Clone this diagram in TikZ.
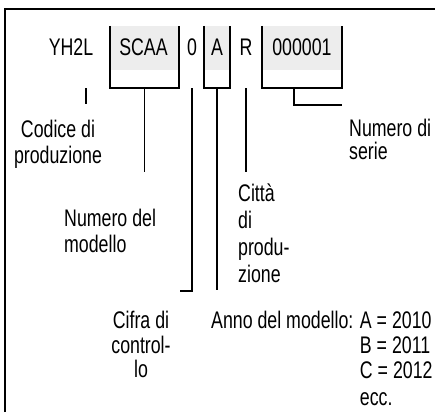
\documentclass[tikz,border=0pt]{standalone}
\usepackage{fontspec}
\setmainfont{Liberation Sans}[FakeStretch=0.74]
\usetikzlibrary{positioning}
\newcommand{\platefont}{\fontsize{24}{22}\selectfont\lineskiplimit=-20pt\relax}

\begin{document}
\begin{tikzpicture}[x=1pt, y=-1pt, font=\platefont,
    code/.style={anchor=base, inner sep=0pt},
    slot/.style={inner sep=0pt, minimum height=62pt},
    lbl/.style={inner sep=0pt, anchor=north west, align=left},
    stem/.style={line width=1.8pt}]
  \useasboundingbox (0,0) rectangle (435,412);
  \draw[line width=1.8pt] (5,412) -- (5,9) -- (435,9);
  % open slots round the groups of the serial number
  \node[slot, minimum width=69pt] (s1) at (144.5,57) {};
  \node[slot, minimum width=26pt] (s2) at (217,57) {};
  \node[slot, minimum width=80pt] (s3) at (302,57) {};
  \foreach \s in {s1,s2,s3} {
    \fill[black!7] (\s.north west) rectangle ([yshift=18pt]\s.south east);
    \draw[stem] (\s.north west) -- (\s.south west) -- (\s.south east) -- (\s.north east);
  }
  % the code itself
  \node[code] (yh) at (71,55) {YH2L};
  \node[code] (scaa) at (143.5,55) {SCAA};
  \node[code] (cd) at (192,55) {0};
  \node[code] (yr) at (217,55) {A};
  \node[code] (ct) at (246,55) {R};
  \node[code] (sn) at (302,55) {000001};
  % explanations
  \node[lbl, anchor=north, align=center] (prod) at (58,120) {Codice di\\[4pt]produzione};
  \node[lbl] (mod) at (64,209) {Numero del\\[4pt]modello};
  \node[lbl] (city) at (238,184) {Città\\[5pt]di\\[5pt]produ-\\[5pt]zione};
  \node[lbl] (ser) at (349,119) {Numero di\\[1pt]serie};
  \node[lbl, anchor=north, align=center] (chk) at (141,311) {Cifra di\\[3pt]control-\\[2pt]lo};
  \node[lbl] (yrs) at (211,311) {Anno del modello: A = 2010\\[3pt]
    \hphantom{Anno del modello: }B = 2011\\[3pt]
    \hphantom{Anno del modello: }C = 2012\\[5pt]
    \hphantom{Anno del modello: }ecc.};
  % connectors
  \coordinate (yh-end) at (86,104);
  \draw[stem] (yh-end |- s1.south) -- (yh-end);
  \draw[stem] (s1.south) -- ++(0,84);
  \draw[stem] (cd |- s1.south) -- ++(0,203) -- ++(-12,0);
  \draw[stem] (s2.south) -- ++(0,202);
  \draw[stem] (ct |- s1.south) -- ++(0,84);
  \draw[stem] ([xshift=-8pt]s3.south) -- ++(0,17) -- ++(48,0);
\end{tikzpicture}
\end{document}
